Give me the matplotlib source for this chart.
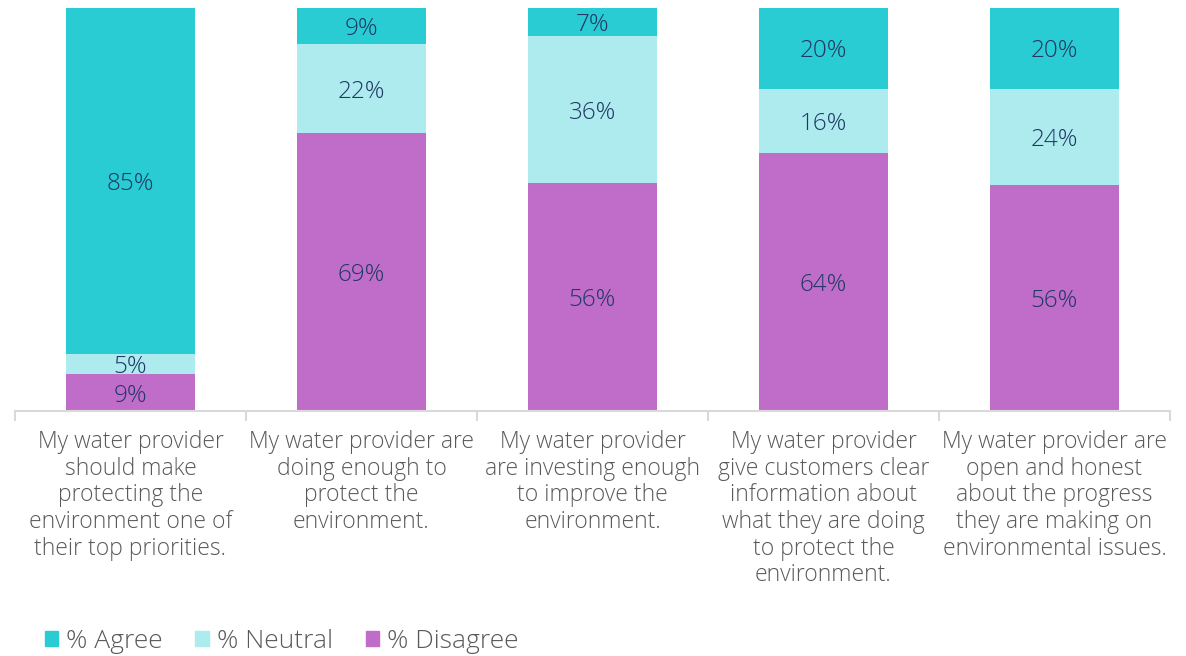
import matplotlib
matplotlib.use("Agg")
import matplotlib.pyplot as plt
from matplotlib.patches import Patch
import numpy as np

categories = [
    "My water provider\nshould make\nprotecting the\nenvironment one of\ntheir top priorities.",
    "My water provider are\ndoing enough to\nprotect the\nenvironment.",
    "My water provider\nare investing enough\nto improve the\nenvironment.",
    "My water provider\ngive customers clear\ninformation about\nwhat they are doing\nto protect the\nenvironment.",
    "My water provider are\nopen and honest\nabout the progress\nthey are making on\nenvironmental issues.",
]
disagree = [9, 69, 56, 64, 56]
neutral = [5, 22, 36, 16, 24]
agree = [85, 9, 7, 20, 20]

series_names = ["% Agree", "% Neutral", "% Disagree"]
colors = {"% Agree": "#2ACCD3", "% Neutral": "#ADEBEE", "% Disagree": "#C06DC9"}

plt.rcParams['font.family'] = ['Open Sans', 'DejaVu Sans']

fig = plt.figure(figsize=(11.86, 6.56), dpi=100)
ax = fig.add_axes([15/1186, 1-411/656, 1155/1186, 403/656])

x = np.arange(len(categories))
w = 0.555
label_color = "#203864"

# 100% stacked: each bar is normalised to its total
tot = np.array(disagree) + np.array(neutral) + np.array(agree)
d_n = np.array(disagree) / tot * 100
n_n = np.array(neutral) / tot * 100
a_n = np.array(agree) / tot * 100

ax.bar(x, d_n, w, color=colors["% Disagree"])
ax.bar(x, n_n, w, bottom=d_n, color=colors["% Neutral"])
ax.bar(x, a_n, w, bottom=d_n + n_n, color=colors["% Agree"])

for vals, heights, bots in [(disagree, d_n, np.zeros(5)), (neutral, n_n, d_n), (agree, a_n, d_n + n_n)]:
    for xi, v, h, b in zip(x, vals, heights, bots):
        ax.text(xi, b + h / 2, f"{v}%", ha="center", va="center_baseline",
                fontsize=17.5, color=label_color, fontweight="light")

ax.set_xlim(-0.5, len(categories) - 0.5)
ax.set_ylim(0, 100)
ax.set_yticks([])
for s in ["top", "left", "right"]:
    ax.spines[s].set_visible(False)
ax.spines["bottom"].set_color("#D9D9D9")
ax.spines["bottom"].set_linewidth(1.5)

ax.set_xticks(x)
ax.set_xticklabels(categories, fontsize=16.5, color="#595959", linespacing=1.14,
                   va="top", fontweight="light")
ax.tick_params(axis="x", which="major", length=0, pad=14)
ax.set_xticks(np.arange(-0.5, len(categories), 1), minor=True)
ax.tick_params(axis="x", which="minor", length=7, color="#D9D9D9", width=1.5)

handles = [Patch(color=colors[n]) for n in series_names]
fig.legend(handles, series_names, loc="center left", bbox_to_anchor=(21/1186, 1 - 641/656),
           ncol=3, frameon=False, handlelength=0.5, handleheight=0.5,
           handletextpad=0.3, columnspacing=1.25, labelcolor="#595959",
           prop={"weight": "light", "size": 19})

fig.savefig("out.png", dpi=100)
